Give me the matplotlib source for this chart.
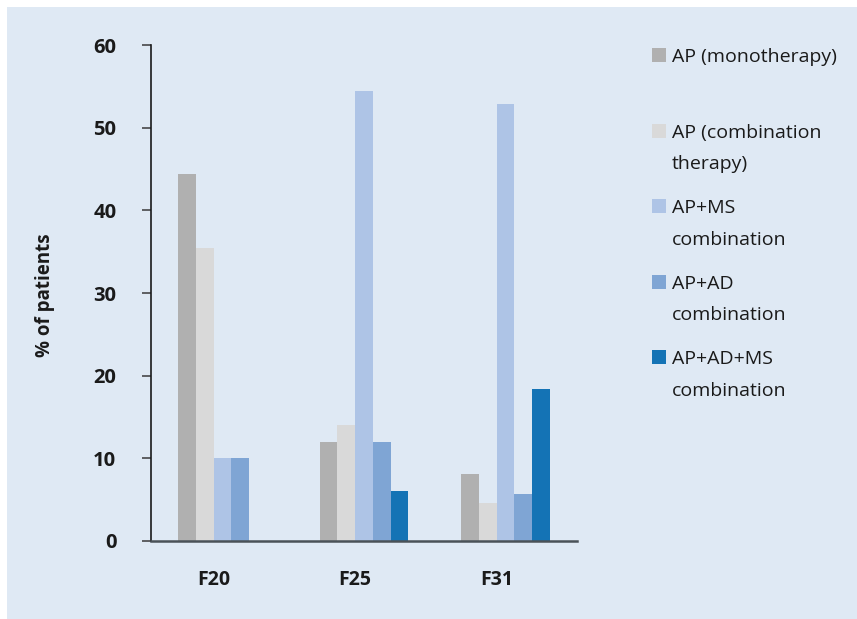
import matplotlib
matplotlib.use("Agg")
import matplotlib.pyplot as plt
from matplotlib.patches import Rectangle

plt.rcParams['font.family'] = ['Open Sans', 'DejaVu Sans']

# Diagnosis groups and prescription patterns (% of patients)
groups = ["F20", "F25", "F31"]
series = [
    "AP (monotherapy)",
    "AP (combination\ntherapy)",
    "AP+MS\ncombination",
    "AP+AD\ncombination",
    "AP+AD+MS\ncombination",
]
colors = ["#b0b0b0", "#d9d9d9", "#aec4e6", "#7fa5d4", "#1473b5"]
values = [
    [44.4, 12.0, 8.1],   # AP (monotherapy)
    [35.4, 14.0, 4.6],   # AP (combination therapy)
    [10.0, 54.5, 52.9],  # AP+MS combination
    [10.0, 12.0, 5.7],   # AP+AD combination
    [0.0, 6.0, 18.4],    # AP+AD+MS combination
]
yticks = [0, 10, 20, 30, 40, 50, 60]

W, H = 857, 619
bg = "#dfe9f4"
fig = plt.figure(figsize=(W / 100, H / 100), dpi=100)
fig.patch.set_facecolor("white")
fig.patches.append(Rectangle((7 / W, 0), 1 - 7 / W, 1 - 7 / H,
                             transform=fig.transFigure, facecolor=bg,
                             edgecolor="none", zorder=-10))

ax = fig.add_axes([151 / W, 1 - 540.7 / H, 426 / W, (540.7 - 45.3) / H])
ax.set_facecolor("none")

gap = 8
for i, (vals, col) in enumerate(zip(values, colors)):
    xs = [g * gap + i for g in range(len(groups))]
    ax.bar(xs, vals, width=1.0, color=col, edgecolor="none", zorder=2)

ax.set_xlim(-2.05, 22.05)
ax.set_ylim(0, 60)
ax.set_yticks(yticks)
ax.set_xticks([g * gap + 1.5 for g in range(len(groups))])
ax.set_xticklabels(groups)

for s in ["top", "right"]:
    ax.spines[s].set_visible(False)
ax.spines["left"].set_color("#1a1a1a")
ax.spines["left"].set_linewidth(1.2)
ax.spines["bottom"].set_color("#4a5258")
ax.spines["bottom"].set_linewidth(1.8)

ax.tick_params(axis="y", direction="out", length=6.5, width=1.1, color="#3a3a3a",
               pad=18.5, labelsize=14.5, labelcolor="#1a1a1a")
ax.tick_params(axis="x", length=0, pad=21, labelsize=14, labelcolor="#1a1a1a")
for lab in ax.get_yticklabels() + ax.get_xticklabels():
    lab.set_fontweight("bold")

fig.text(45 / W, 1 - 295 / H, "% of patients", rotation=90, ha="center",
         va="center", fontsize=13.5, fontweight="bold", color="#1a1a1a")

# Legend laid out as a column of swatches with wrapped labels
entry_top = 55
entry_step = 75.6
line_step = 31.5
for k, (label, col) in enumerate(zip(series, colors)):
    yc = entry_top + k * entry_step
    fig.patches.append(Rectangle((652 / W, 1 - (yc + 7) / H), 14 / W, 14 / H,
                                 transform=fig.transFigure, facecolor=col,
                                 edgecolor="none"))
    for j, line in enumerate(label.split("\n")):
        fig.text(672 / W, 1 - (yc + j * line_step) / H, line, ha="left",
                 va="center_baseline", fontsize=14, color="#1a1a1a")

fig.savefig("out.png", dpi=100, facecolor="white")
